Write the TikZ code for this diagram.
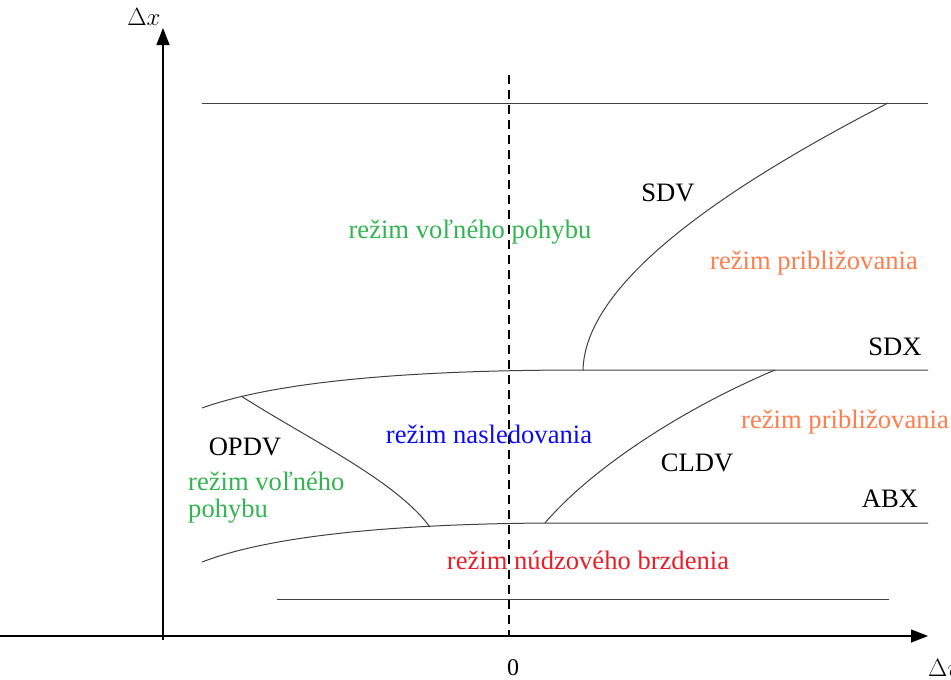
\documentclass[tikz,border=0pt]{standalone}
\usepackage{fontspec}
\setmainfont{Liberation Serif}
\usetikzlibrary{arrows.meta}
\definecolor{rgreen}{RGB}{50,180,80}
\definecolor{rorange}{RGB}{255,125,75}
\definecolor{rblue}{RGB}{10,10,240}
\definecolor{rred}{RGB}{235,30,40}
\begin{document}
\begin{tikzpicture}[x=1pt,y=-1pt,
  lbl/.style={inner sep=0pt,font=\fontsize{26.6}{30}\selectfont},
  curveline/.style={line width=1pt,draw=black!75},
  axis/.style={line width=1.4pt,-{Triangle[length=17pt,width=13pt]}}]
\useasboundingbox (0,0) rectangle (951,680);
% axes
\coordinate (yo) at (163,640);
\coordinate (ytip) at (163,28);
\coordinate (xo) at (0,636);
\coordinate (xtip) at (928,636);
\draw[axis] (yo) -- (ytip);
\draw[axis] (xo) -- (xtip);
\node[lbl,font=\fontsize{24}{28}\selectfont] (dx) at (144,17) {$\Delta x$};
\node[lbl,anchor=west,font=\fontsize{24}{28}\selectfont] (dv) at (928,668) {$\Delta v$};
\node[lbl,font=\fontsize{24}{28}\selectfont] (zero) at (513,668) {0};
% dashed zero line
\coordinate (d1) at (509,75);
\coordinate (d2) at (509,636);
\draw[dashed,line width=1.2pt,dash pattern=on 9pt off 6pt] (d1) -- (d2);
% top line
\coordinate (t1) at (202,103);
\coordinate (t2) at (928,103);
\draw[curveline] (t1) -- (t2);
% bottom line
\coordinate (b1) at (277,599);
\coordinate (b2) at (889,599);
\draw[curveline] (b1) -- (b2);
% SDX
\coordinate (s1) at (202,408);
\coordinate (s2) at (583,370);
\coordinate (s3) at (928,370);
\draw[curveline] (s1) .. controls (280,380) and (420,370) .. (s2) -- (s3);
% ABX
\coordinate (a1) at (202,562);
\coordinate (a2) at (545,523);
\coordinate (a3) at (928,523);
\draw[curveline] (a1) .. controls (280,532) and (420,524) .. (a2) -- (a3);
% SDV
\coordinate (sdvtop) at (888,103);
\draw[curveline] (s2) .. controls (585,290) and (700,200) .. (sdvtop);
% OPDV
\coordinate (o1) at (241,396);
\coordinate (o2) at (430,527);
\draw[curveline] (o1) .. controls (310,440) and (395,480) .. (o2);
% CLDV
\coordinate (c2) at (775,370);
\draw[curveline] (a2) .. controls (590,470) and (680,410) .. (c2);
% labels
\node[lbl] (sdv) at (668,193) {SDV};
\node[lbl,text=rgreen] (g1) at (470,232) {režim voľného pohybu};
\node[lbl,text=rorange] (o1l) at (814,263) {režim približovania};
\node[lbl] (sdx) at (895,347) {SDX};
\node[lbl] (opdv) at (245,447) {OPDV};
\node[lbl,text=rblue] (nas) at (489,434) {režim nasledovania};
\node[lbl] (cldv) at (697,463) {CLDV};
\node[lbl,text=rorange] (o2l) at (845,422) {režim približovania};
\node[lbl] (abx) at (890,499) {ABX};
\node[lbl,text=rgreen,anchor=west] (g2) at (188,481) {režim voľného};
\node[lbl,text=rgreen,anchor=west] (g3) at (188,511) {pohybu};
\node[lbl,text=rred] (red) at (588,560) {režim núdzového brzdenia};
\end{tikzpicture}
\end{document}
